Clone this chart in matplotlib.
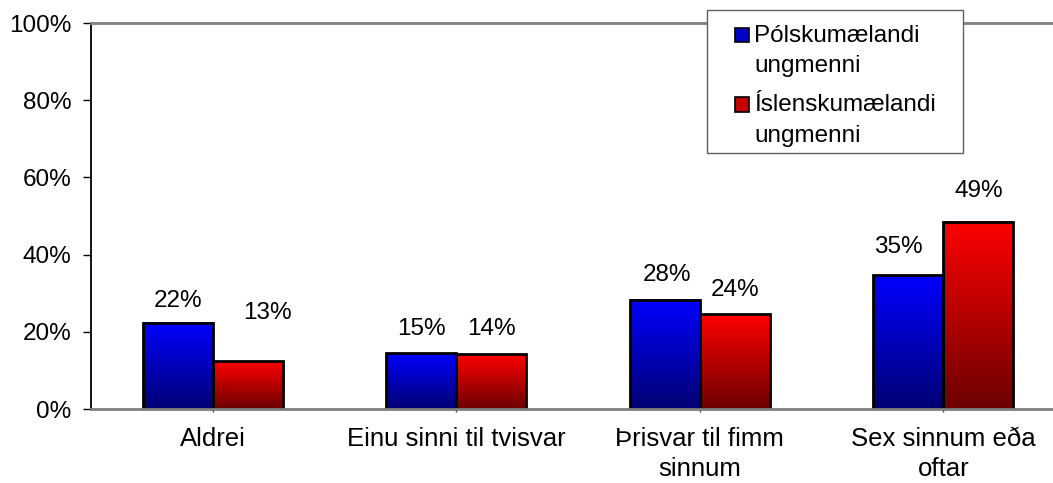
import numpy as np
import matplotlib
matplotlib.use("Agg")
import matplotlib.pyplot as plt
from matplotlib.patches import Rectangle
from matplotlib.colors import LinearSegmentedColormap

plt.rcParams['font.family'] = ['Liberation Sans', 'DejaVu Sans']

# ========== [DATA] ==========
categories = ["Aldrei", "Einu sinni til tvisvar", "Þrisvar til fimm\nsinnum", "Sex sinnum eða\noftar"]
series_names = ["Pólskumælandi\nungmenni", "Íslenskumælandi\nungmenni"]
pol_values = [22.3, 14.5, 28.3, 34.7]
isl_values = [12.4, 14.2, 24.5, 48.5]
pol_labels = ["22%", "15%", "28%", "35%"]
isl_labels = ["13%", "14%", "24%", "49%"]

# label placement (Excel labels were nudged by hand)
pol_label_y = [28.0, 20.7, 34.7, 42.0]
isl_label_y = [24.9, 20.7, 30.8, 56.5]
pol_label_dx = [0, 0, 0.01, -0.04]
isl_label_dx = [0.08, 0, 0, 0]

# ========== [STYLE] ==========
W, H = 1053, 483
bar_w = 0.288
blue_cmap = LinearSegmentedColormap.from_list("b", [(0, 0, 0.45), (0, 0, 1)])
red_cmap = LinearSegmentedColormap.from_list("r", [(0.42, 0, 0), (1, 0, 0)])
grad = np.linspace(0, 1, 256).reshape(-1, 1)
fs = 17.5

fig = plt.figure(figsize=(W / 100, H / 100), dpi=100)
ax = fig.add_axes([91 / W, 74 / H, 974 / W, 386 / H])


def gradient_bar(x0, h, cmap):
    ax.imshow(grad, extent=[x0, x0 + bar_w, 0, h], origin="lower", cmap=cmap,
              aspect="auto", zorder=2, interpolation="bilinear")
    ax.add_patch(Rectangle((x0, 0), bar_w, h, fill=False, edgecolor="black",
                           linewidth=2, zorder=3))


x = np.arange(len(categories))
for i in x:
    gradient_bar(i - bar_w, pol_values[i], blue_cmap)
    gradient_bar(i, isl_values[i], red_cmap)
    ax.text(i - bar_w / 2 + pol_label_dx[i], pol_label_y[i], pol_labels[i],
            ha="center", va="center", fontsize=fs)
    ax.text(i + bar_w / 2 + isl_label_dx[i], isl_label_y[i], isl_labels[i],
            ha="center", va="center", fontsize=fs)

ax.set_xlim(-0.5, 3.5)
ax.set_ylim(0, 100)
ax.set_yticks(range(0, 101, 20))
ax.set_yticklabels([f"{v}%" for v in range(0, 101, 20)], fontsize=fs)
ax.set_xticks(x)
ax.set_xticklabels(categories, fontsize=18.5, linespacing=1.3)
ax.tick_params(axis="y", direction="out", length=6, width=1, color="black", pad=8)
ax.tick_params(axis="x", direction="out", length=2, width=1, color="#404040", pad=11)

ax.spines["right"].set_visible(False)
ax.spines["left"].set_color("black")
ax.spines["left"].set_linewidth(1.3)
for s in ["top", "bottom"]:
    ax.spines[s].set_color("#808080")
    ax.spines[s].set_linewidth(2)
    ax.spines[s].set_zorder(4)

# ========== [LEGEND] ==========
def px(xp, yp):
    return xp / W, 1 - yp / H

lx, ly = px(707, 10)
fig.patches.append(Rectangle((lx, 1 - 153 / H), (963 - 707) / W, (153 - 10) / H,
                             transform=fig.transFigure, facecolor="white",
                             edgecolor="#606060", linewidth=1, zorder=5))
for name, cmap, y_first in [(series_names[0], blue_cmap, 35), (series_names[1], red_cmap, 104.5)]:
    sx, sy = px(735, y_first + 7)
    fig.patches.append(Rectangle((sx, sy), 14 / W, 14 / H, transform=fig.transFigure,
                                 facecolor=cmap(0.6), edgecolor="black",
                                 linewidth=1.2, zorder=6))
    tx, ty = px(754, y_first + 16)
    fig.text(tx, ty, name, fontsize=fs, va="center", ha="left", zorder=7,
             linespacing=1.52)

fig.savefig("out.png", dpi=100)
